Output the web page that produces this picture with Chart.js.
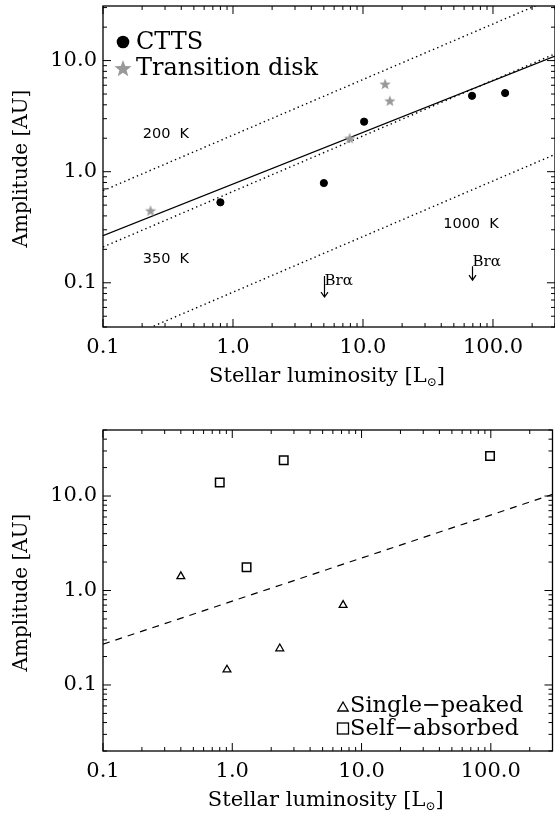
<!DOCTYPE html>
<html><head><meta charset="utf-8">
<script src="https://cdn.jsdelivr.net/npm/chart.js@4.4.0/dist/chart.umd.min.js"></script>
<style>
html,body{margin:0;padding:0;background:#fff;overflow:hidden;width:555px;height:813px}
canvas{position:absolute;left:0}
#top{top:0}
#bot{top:400px}
</style></head><body>
<canvas id="top" width="560" height="400"></canvas>
<canvas id="bot" width="560" height="413"></canvas>
<script>
// --- top panel: CTTS + transition disks ---
const cttsL=[0.80,5.0,10.2,69,124];
const cttsR=[0.53,0.79,2.82,4.82,5.1];
const tdL=[0.232,7.9,14.8,16.1];
const tdR=[0.446,2.0,6.15,4.35];
const braL=[5.0,69];            // Br alpha upper limits
const braR=[0.115,0.141];
const lineL=[0.1,300];
const fitR=[0.266,11.0];
const k200R=[0.675,37];
const k350R=[0.21,11.5];
const k1000R=[0.026,1.43];
const tempLabels=['200  K','350  K','1000  K'];
const tempLabelL=[0.202,0.202,41.4];
const tempLabelR=[2.18,0.164,0.334];

// --- bottom panel ---
const singleL=[0.40,0.91,2.33,7.2];
const singleR=[1.41,0.145,0.243,0.70];
const selfL=[0.80,1.29,2.5,98.6];
const selfR=[13.9,1.76,23.9,26.5];
const dashR=[0.27,10.4];

const xTicks=[0.1,1,10,100];
const yTicks=[0.1,1,10];

const SERIF='"DejaVu Serif"';
const pts=(xs,ys)=>xs.map((x,i)=>({x,y:ys[i]}));

function drawStar(g,cx,cy,R,color){
  g.beginPath();
  for(let i=0;i<10;i++){
    const r=i%2?R*0.42:R, a=-Math.PI/2+i*Math.PI/5;
    g.lineTo(cx+r*Math.cos(a),cy+r*Math.sin(a));
  }
  g.closePath();g.fillStyle=color;g.fill();
}
function starCanvas(R,color){
  const c=document.createElement('canvas'),s=Math.ceil(R*2+2);
  c.width=c.height=s;
  drawStar(c.getContext('2d'),s/2,s/2+0.5,R,color);
  return c;
}

function logMarks(min,max){
  const out=[];
  for(let e=Math.floor(Math.log10(min));e<=Math.ceil(Math.log10(max));e++)
    for(let m=1;m<10;m++){
      const v=m*Math.pow(10,e);
      if(v>=min*0.999&&v<=max*1.001)out.push({v,major:m===1});
    }
  return out;
}

function xScale(h){
  return {type:'logarithmic',min:0.1,max:300,
    afterBuildTicks:s=>{s.ticks=xTicks.map(v=>({value:v}));},
    afterFit:s=>{s.height=h;s.paddingLeft=0;s.paddingRight=0;},
    grid:{display:false,drawTicks:false},border:{display:false},
    ticks:{autoSkip:false,maxRotation:0,padding:8,color:'#000',font:{family:'DejaVu Serif',size:21},
      callback:v=>Number(v).toFixed(1)}};
}
function yScale(min,max){
  return {type:'logarithmic',min,max,
    afterBuildTicks:s=>{s.ticks=yTicks.map(v=>({value:v}));},
    afterFit:s=>{s.width=103;s.paddingTop=0;s.paddingBottom=0;},
    grid:{display:false,drawTicks:false},border:{display:false},
    ticks:{autoSkip:false,padding:6,color:'#000',font:{family:'DejaVu Serif',size:21},
      callback:v=>Number(v).toFixed(1)}};
}

// box, inward ticks on all sides, axis titles
const frame={id:'frame',afterDraw(chart){
  const {ctx,chartArea:ca,scales:{x,y}}=chart;
  ctx.save();
  ctx.strokeStyle='#000';ctx.lineWidth=1.3;
  ctx.strokeRect(ca.left,ca.top,ca.right-ca.left,ca.bottom-ca.top);
  ctx.lineWidth=1;ctx.beginPath();
  logMarks(x.min,x.max).forEach(m=>{
    const p=x.getPixelForValue(m.v),l=m.major?8:4;
    ctx.moveTo(p,ca.bottom);ctx.lineTo(p,ca.bottom-l);
    ctx.moveTo(p,ca.top);ctx.lineTo(p,ca.top+l);
  });
  logMarks(y.min,y.max).forEach(m=>{
    const p=y.getPixelForValue(m.v),l=m.major?8:4;
    ctx.moveTo(ca.left,p);ctx.lineTo(ca.left+l,p);
    ctx.moveTo(ca.right,p);ctx.lineTo(ca.right-l,p);
  });
  ctx.stroke();

  ctx.fillStyle='#000';
  ctx.font='20px '+SERIF;ctx.textAlign='center';ctx.textBaseline='middle';
  ctx.save();ctx.translate(22,(ca.top+ca.bottom)/2+2);ctx.rotate(-Math.PI/2);
  ctx.fillText('Amplitude [AU]',0,0);ctx.restore();

  const a='Stellar luminosity [L',b='\u2299',c=']';
  ctx.font='21px '+SERIF;const wa=ctx.measureText(a).width,wc=ctx.measureText(c).width;
  ctx.font='12px '+SERIF;const wb=ctx.measureText(b).width;
  const sx=(ca.left+ca.right)/2-2-(wa+wb+wc)/2,by=ca.bottom+55;
  ctx.textAlign='left';ctx.textBaseline='alphabetic';
  ctx.font='21px '+SERIF;ctx.fillText(a,sx,by);
  ctx.font='12px '+SERIF;ctx.fillText(b,sx+wa,by+4);
  ctx.font='21px '+SERIF;ctx.fillText(c,sx+wa+wb,by);
  ctx.restore();
}};

const braStyle=[{len:21,dy:9},{len:14,dy:0}];
const topNotes={id:'topNotes',afterDatasetsDraw(chart){
  const {ctx,scales:{x,y}}=chart;
  ctx.save();ctx.fillStyle='#000';ctx.strokeStyle='#000';
  ctx.font='14.5px "DejaVu Sans"';ctx.textBaseline='middle';ctx.textAlign='left';
  tempLabels.forEach((t,i)=>ctx.fillText(t,x.getPixelForValue(tempLabelL[i]),y.getPixelForValue(tempLabelR[i])));

  ctx.lineWidth=1.2;ctx.font='15px '+SERIF;ctx.textBaseline='alphabetic';
  chart.getDatasetMeta(2).data.forEach((el,i)=>{
    const s=braStyle[i],px=Math.round(el.x)+0.5,py=el.y;
    ctx.beginPath();
    ctx.moveTo(px,py);ctx.lineTo(px,py+s.len);
    ctx.moveTo(px-3.5,py+s.len-5);ctx.lineTo(px,py+s.len);ctx.lineTo(px+3.5,py+s.len-5);
    ctx.stroke();
    ctx.fillText('Br\u03b1',px,py+s.dy);
  });

  // legend
  ctx.font='24px '+SERIF;
  ctx.beginPath();ctx.arc(123,42,6.3,0,Math.PI*2);ctx.fill();
  ctx.fillText('CTTS',136,49);
  drawStar(ctx,123,69,9,'#999');
  ctx.fillStyle='#000';ctx.fillText('Transition disk',136,75);
  ctx.restore();
}};

const botNotes={id:'botNotes',afterDatasetsDraw(chart){
  const {ctx}=chart;
  ctx.save();ctx.strokeStyle='#000';ctx.fillStyle='#000';ctx.lineWidth=1.3;
  const tx=343,ty=307,r=6;
  ctx.beginPath();
  for(let k=0;k<3;k++){const a=k*2*Math.PI/3;ctx.lineTo(tx+Math.sin(a)*r,ty-Math.cos(a)*r+1);}
  ctx.closePath();ctx.stroke();
  ctx.strokeRect(337.5,323,11,11);
  ctx.font='22.5px '+SERIF;ctx.textBaseline='alphabetic';ctx.textAlign='left';
  ctx.fillText('Single\u2212peaked',350,312);
  ctx.fillText('Self\u2212absorbed',350,335);
  ctx.restore();
}};

const common={responsive:false,animation:false,events:[],
  plugins:{legend:{display:false},tooltip:{enabled:false}}};
const lineSet=(ys,dash,w)=>({data:pts(lineL,ys),showLine:true,pointRadius:0,borderColor:'#000',borderWidth:w||1,borderDash:dash});

new Chart(document.getElementById('top'),{
  type:'scatter',
  data:{datasets:[
    {data:pts(cttsL,cttsR),pointStyle:'circle',pointRadius:3.6,backgroundColor:'#000',borderColor:'#000',borderWidth:1},
    {data:pts(tdL,tdR),pointStyle:starCanvas(6,'#999')},
    {data:pts(braL,braR),pointRadius:0},
    lineSet(fitR,[],1.2),
    lineSet(k200R,[1.4,3.2],1.4),
    lineSet(k350R,[1.4,3.2],1.4),
    lineSet(k1000R,[1.4,3.2],1.4)
  ]},
  options:{...common,layout:{padding:{top:6,right:2.5,left:0,bottom:0}},
    scales:{x:xScale(73),y:yScale(0.04,31)}},
  plugins:[frame,topNotes]
});

new Chart(document.getElementById('bot'),{
  type:'scatter',
  data:{datasets:[
    {data:pts(singleL,singleR),pointStyle:'triangle',pointRadius:4.5,backgroundColor:'rgba(0,0,0,0)',borderColor:'#000',borderWidth:1.3},
    {data:pts(selfL,selfR),pointStyle:'rect',pointRadius:6,backgroundColor:'rgba(0,0,0,0)',borderColor:'#000',borderWidth:1.5},
    lineSet(dashR,[7,6],1.2)
  ]},
  options:{...common,layout:{padding:{top:30,right:2.5,left:0,bottom:0}},
    scales:{x:xScale(62),y:yScale(0.02,50)}},
  plugins:[frame,botNotes]
});
</script>
</body></html>
